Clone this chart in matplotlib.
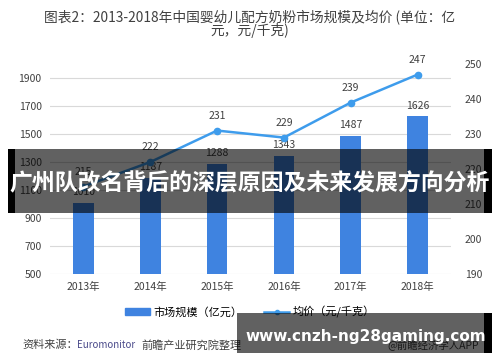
import matplotlib.pyplot as plt
from matplotlib.patches import Rectangle
from matplotlib.lines import Line2D

plt.rcParams['font.family'] = ['Noto Sans CJK SC', 'DejaVu Sans']

years = ['2013年', '2014年', '2015年', '2016年', '2017年', '2018年']
market = [1010, 1187, 1288, 1343, 1487, 1626]
price = [215, 222, 231, 229, 239, 247]
left_ticks = [500, 700, 900, 1100, 1300, 1500, 1700, 1900]
right_ticks = [190, 200, 210, 220, 230, 240, 250]

bar_c = '#3F83E0'
line_c = '#3E9CEC'
txt_c = '#404040'

fig = plt.figure(figsize=(5, 3.62), dpi=100)
ax = fig.add_axes([0.1, 0.243, 0.802, 0.58])
x = list(range(len(years)))

ax.bar(x, market, width=0.31, color=bar_c, zorder=2)
for i, v in enumerate(market):
    ax.annotate(str(v), (i, v), xytext=(0, 4), textcoords='offset points',
                ha='center', va='bottom', fontsize=7.5, color=txt_c)
ax.set_ylim(500, 2000)
ax.set_xlim(-0.5, 5.5)
ax.set_yticks(left_ticks)
ax.set_xticks(x)
ax.set_xticklabels(years)
ax.grid(axis='y', color='#D9D9D9', linewidth=0.8, zorder=0)
for s in ax.spines.values():
    s.set_visible(False)
ax.tick_params(length=0, labelsize=7.5, colors=txt_c, pad=6)

ax2 = ax.twinx()
ax2.plot(x, price, color=line_c, linewidth=1.8, marker='o', markersize=4.5, zorder=3)
for i, v in enumerate(price):
    ax2.annotate(str(v), (i, v), xytext=(0, 7), textcoords='offset points',
                 ha='center', va='bottom', fontsize=7.5, color=txt_c)
ax2.set_ylim(190, 250)
ax2.set_yticks(right_ticks)
for s in ax2.spines.values():
    s.set_visible(False)
ax2.tick_params(length=0, labelsize=7.5, colors=txt_c, pad=10)

fig.text(0.5, 1 - 9 / 362, '图表2：2013-2018年中国婴幼儿配方奶粉市场规模及均价 (单位：亿\n元，元/千克)',
         ha='center', va='top', fontsize=9.9, color='#404040', linespacing=0.95)

handles = [Rectangle((0, 0), 1, 1, color=bar_c),
           Line2D([0], [0], color=line_c, linewidth=1.8, marker='o', markersize=3)]
fig.legend(handles, ['市场规模（亿元）', '均价（元/千克）'], loc='center',
           bbox_to_anchor=(0.5, 0.138), ncol=2, frameon=False, fontsize=8,
           handlelength=2.2, handleheight=0.6, columnspacing=2.0, handletextpad=0.3)

fig.text(0.044, 0.047, '资料来源：', fontsize=8, color='#404040', va='center')
fig.text(0.155, 0.047, 'Euromonitor', fontsize=7, color='#4A4A8A', va='center')
fig.text(0.282, 0.047, '前瞻产业研究院整理', fontsize=8, color='#404040', va='center')
fig.text(0.775, 0.047, '@前瞻经济学人APP', fontsize=7.5, color='#404040', va='center')

# overlay banners
H = 362.0
fig.add_artist(Rectangle((8 / 500, 1 - 213 / H), 476 / 500, 64 / H, transform=fig.transFigure,
                         facecolor='black', alpha=0.62, edgecolor='none', zorder=10))
fig.add_artist(Rectangle((8 / 500, 1 - 213 / H), 7 / 500, 64 / H, transform=fig.transFigure,
                         facecolor='black', edgecolor='none', zorder=10))
fig.add_artist(Rectangle((484 / 500, 1 - 213 / H), 8 / 500, 64 / H, transform=fig.transFigure,
                         facecolor='black', edgecolor='none', zorder=10))
fig.text(0.5, 1 - 184 / H, '广州队改名背后的深层原因及未来发展方向分析', ha='center', va='center',
         fontsize=16.5, fontweight='bold', color='white', zorder=11)

fig.add_artist(Rectangle((237 / 500, 1 - 353 / H), 247 / 500, 40 / H, transform=fig.transFigure,
                         facecolor='black', alpha=0.62, edgecolor='none', zorder=10))
fig.add_artist(Rectangle((484 / 500, 1 - 353 / H), 8 / 500, 40 / H, transform=fig.transFigure,
                         facecolor='black', edgecolor='none', zorder=10))
fig.text(0.49, 1 - 336 / H, 'www.cnzh-ng28gaming.com', ha='left', va='center',
         fontsize=11, fontweight='bold', color='white', family='DejaVu Sans', zorder=11)

fig.savefig('out.png', dpi=100)
